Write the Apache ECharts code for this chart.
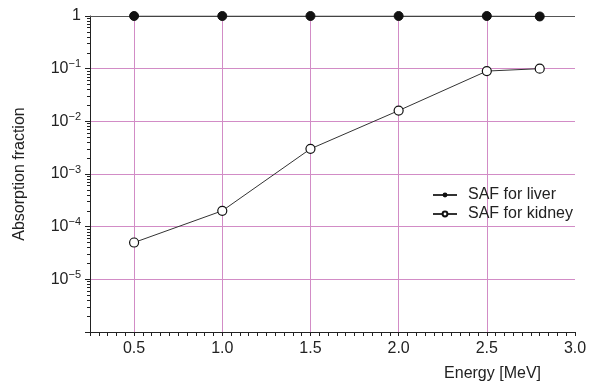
<!DOCTYPE html>
<html>
<head>
<meta charset="utf-8">
<script src="https://cdn.jsdelivr.net/npm/echarts@6/dist/echarts.min.js"></script>
<style>
  html, body { margin: 0; padding: 0; background: #fff; }
  #chart { width: 592px; height: 385px; }
</style>
</head>
<body>
<div id="chart"></div>
<script>
  // energies of the points (MeV)
  var energy = [0.5, 1.0, 1.5, 2.0, 2.5, 2.8];
  // absorbed fractions
  var liverSAF = [1, 1, 1, 1, 1, 0.98];
  var kidneySAF = [5e-5, 2e-4, 3e-3, 1.6e-2, 9e-2, 0.1];
  // vertical grid lines
  var xGridLines = [0.5, 1.0, 1.5, 2.0, 2.5];

  var font = '"Liberation Sans", Arial, sans-serif';
  var pink = '#d28cc6';

  function pairs(xs, ys) {
    return xs.map(function (x, i) { return [x, ys[i]]; });
  }

  var option = {
    animation: false,
    textStyle: { fontFamily: font },
    grid: { left: 90, right: 17, top: 16, bottom: 53 },
    legend: {
      orient: 'vertical',
      left: 432,
      top: 187,
      padding: 0,
      itemWidth: 24,
      itemHeight: 6,
      itemGap: 3,
      textStyle: { fontSize: 16, color: '#222', fontFamily: font, padding: [0, 0, 0, 6] },
      data: ['SAF for liver', 'SAF for kidney']
    },
    xAxis: {
      type: 'value',
      min: 0.25,
      max: 3.0,
      interval: 0.05,
      name: 'Energy [MeV]',
      nameLocation: 'end',
      nameGap: -34,
      nameTextStyle: {
        fontSize: 16, color: '#222', fontFamily: font,
        align: 'right', verticalAlign: 'top', padding: [34, 0, 0, 0]
      },
      axisLine: { lineStyle: { color: '#222', width: 1 } },
      axisTick: { length: 4, lineStyle: { color: '#222' } },
      axisLabel: {
        fontSize: 16, color: '#222', margin: 9,
        formatter: function (v) {
          return Math.abs(v * 2 - Math.round(v * 2)) < 1e-6 ? v.toFixed(1) : '';
        }
      },
      splitLine: { show: false }
    },
    yAxis: {
      type: 'log',
      logBase: 10,
      min: 1e-6,
      max: 1,
      name: 'Absorption fraction',
      nameLocation: 'middle',
      nameGap: 62,
      nameRotate: 90,
      nameTextStyle: { fontSize: 16, color: '#222', fontFamily: font },
      axisLine: { show: true, lineStyle: { color: '#222', width: 1 } },
      axisTick: { length: 5, lineStyle: { color: '#222' } },
      minorTick: { show: true, splitNumber: 9, length: 3, lineStyle: { color: '#222' } },
      axisLabel: {
        fontSize: 16, color: '#222', margin: 9,
        formatter: function (v) {
          var n = Math.round(Math.log10(v));
          if (n === 0) return '1';
          if (n <= -6) return '';
          return '10{s|\u2212' + (-n) + '}';
        },
        rich: {
          s: { fontSize: 11, color: '#222', padding: [0, 0, 9, 0], verticalAlign: 'bottom' }
        }
      },
      splitLine: { show: true, lineStyle: { color: pink, width: 1 } }
    },
    series: [
      {
        name: 'SAF for liver',
        type: 'line',
        data: pairs(energy, liverSAF),
        symbol: 'circle',
        symbolSize: 9,
        itemStyle: { color: '#111', borderColor: '#111' },
        lineStyle: { color: '#333', width: 1.2 },
        z: 5,
        markLine: {
          silent: true,
          symbol: 'none',
          label: { show: false },
          lineStyle: { color: '#555', width: 1, type: 'solid' },
          data: [{ yAxis: 1 }],
          z: 2
        }
      },
      {
        name: 'SAF for kidney',
        type: 'line',
        data: pairs(energy, kidneySAF),
        symbol: 'circle',
        symbolSize: 9,
        itemStyle: { color: '#fff', borderColor: '#111', borderWidth: 1.2 },
        lineStyle: { color: '#333', width: 1 },
        z: 5,
        markLine: {
          silent: true,
          symbol: 'none',
          label: { show: false },
          lineStyle: { color: pink, width: 1, type: 'solid' },
          data: xGridLines.map(function (x) { return { xAxis: x }; }),
          z: 1
        }
      }
    ]
  };

  var myChart = echarts.init(document.getElementById('chart'));
  myChart.setOption(option);
</script>
</body>
</html>
